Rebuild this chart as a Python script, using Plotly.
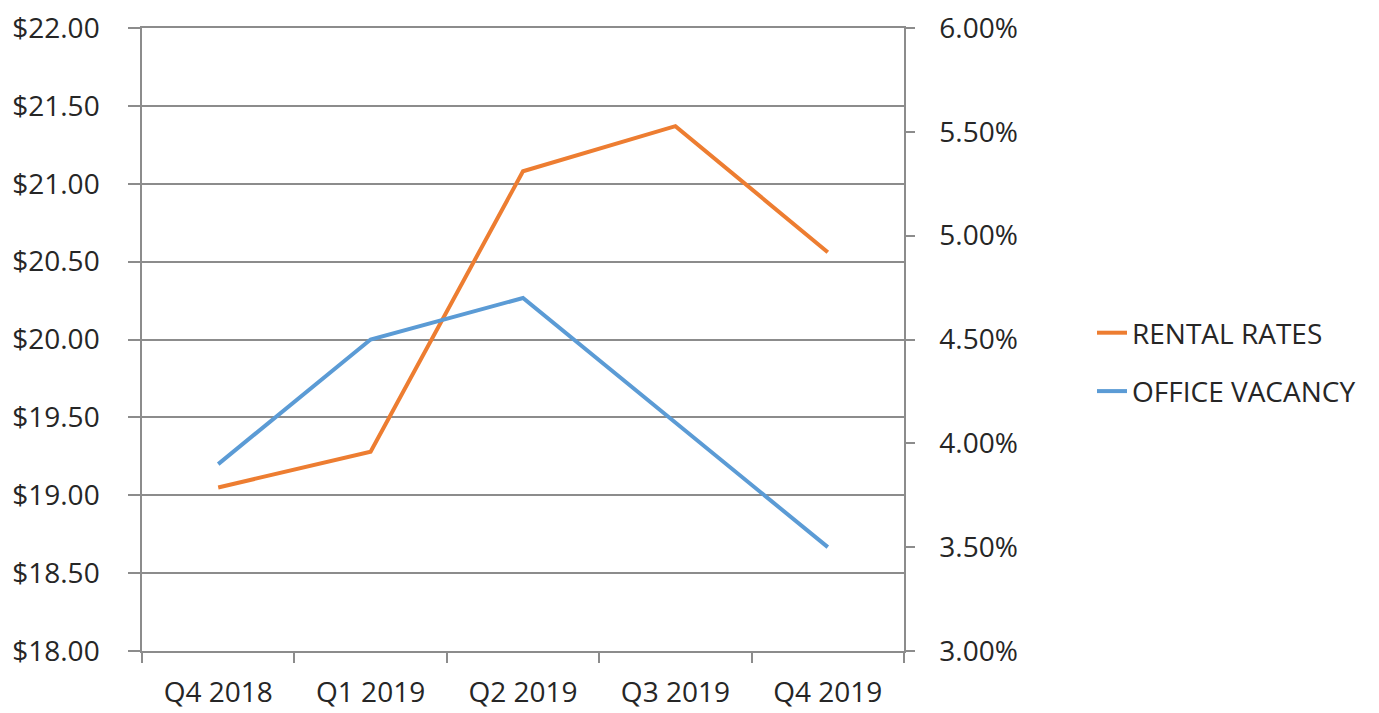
import plotly.graph_objects as go

quarters = ["Q4 2018", "Q1 2019", "Q2 2019", "Q3 2019", "Q4 2019"]
rental_rates = [19.05, 19.28, 21.08, 21.37, 20.56]
office_vacancy = [0.039, 0.045, 0.047, 0.041, 0.035]

FONT = "Open Sans"
GRID = "#8c8c8c"
TXT = "#262626"

fig = go.Figure()
fig.add_trace(go.Scatter(
    x=quarters, y=rental_rates, name="RENTAL RATES", mode="lines",
    line=dict(color="#ED7D31", width=4), yaxis="y", legendgroup="a"))
fig.add_trace(go.Scatter(
    x=quarters, y=office_vacancy, name="OFFICE VACANCY", mode="lines",
    line=dict(color="#5B9BD5", width=4), yaxis="y2", legendgroup="b"))

fig.update_layout(
    width=1379, height=713,
    margin=dict(l=134, r=483, t=20, b=70, autoexpand=False),
    paper_bgcolor="white", plot_bgcolor="white",
    font=dict(family=FONT, size=28, color=TXT),
    showlegend=True,
    legend=dict(
        xref="container", yref="container",
        x=1084 / 1379, y=1 - 300 / 713, xanchor="left", yanchor="top",
        traceorder="grouped", tracegroupgap=19,
        font=dict(family=FONT, size=28, color=TXT),
        bgcolor="rgba(0,0,0,0)",
    ),
    xaxis=dict(
        type="category", range=[-0.5, 4.5], autorange=False,
        showgrid=False, showline=True, mirror=True, linecolor=GRID, linewidth=1.5,
        ticks="outside", tickson="boundaries", ticklen=10, tickcolor=GRID, tickwidth=1.5,
        ticklabelstandoff=16, tickfont=dict(family=FONT, size=28, color=TXT),
        ticklabeloverflow="allow",
        zeroline=False, automargin=False,
    ),
    yaxis=dict(
        range=[18, 22], dtick=0.5, tickformat="$.2f",
        showgrid=True, gridcolor=GRID, gridwidth=1.5,
        showline=True, linecolor=GRID, linewidth=1.5,
        ticks="outside", ticklen=12, tickcolor=GRID, tickwidth=1.5,
        ticklabelstandoff=23, tickfont=dict(family=FONT, size=28, color=TXT),
        ticklabeloverflow="allow",
        zeroline=False, automargin=False,
    ),
    yaxis2=dict(
        overlaying="y", side="right",
        range=[0.03, 0.06], dtick=0.005, tickformat=".2%",
        showgrid=False, showline=True, linecolor=GRID, linewidth=1.5,
        ticks="outside", ticklen=9, tickcolor=GRID, tickwidth=1.5,
        ticklabelstandoff=19, tickfont=dict(family=FONT, size=28, color=TXT),
        ticklabeloverflow="allow",
        zeroline=False, automargin=False,
    ),
)

fig.write_html("out.html")
